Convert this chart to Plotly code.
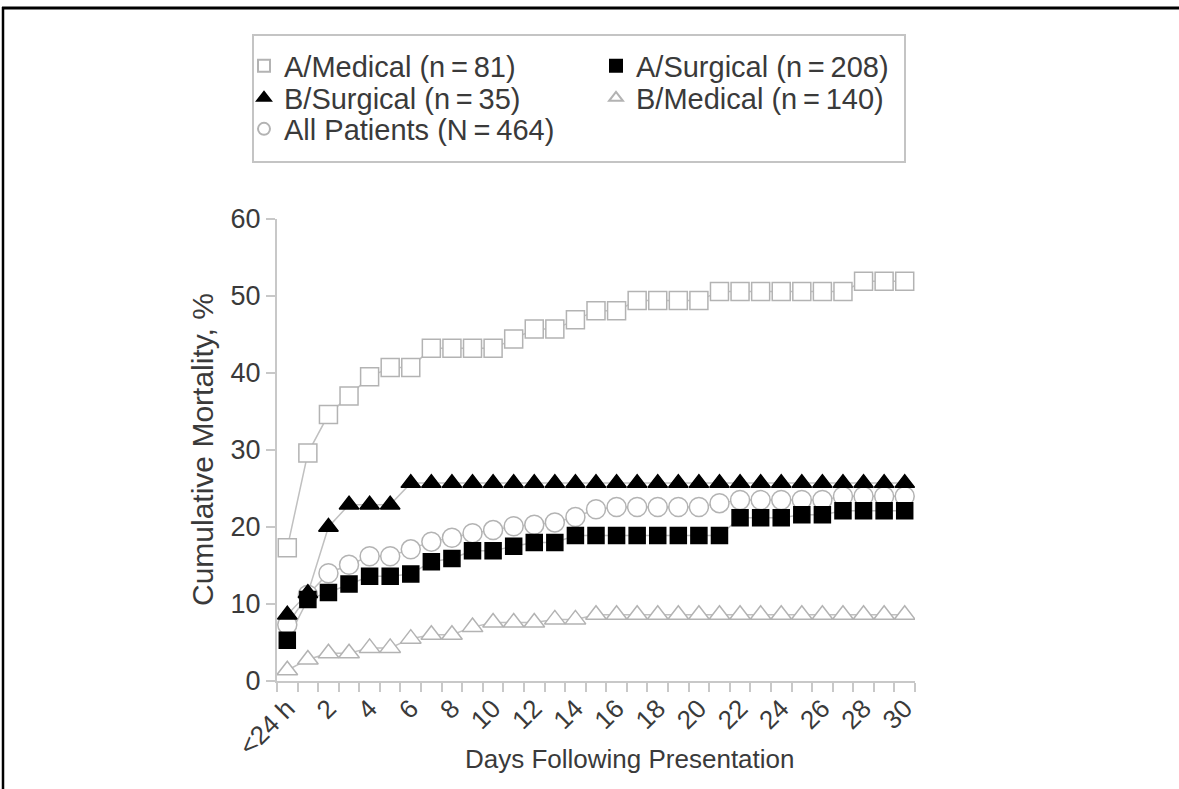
import plotly.graph_objects as go

# ---------------- data ----------------
days = list(range(31))                       # 0 = "<24 h", 1..30 days
tick_days = list(range(0, 31, 2))
tick_text = ["&lt;24 h"] + [str(d) for d in range(2, 31, 2)]
tick_bounds = [d - 0.5 for d in range(32)]
y_ticks = [0, 10, 20, 30, 40, 50, 60]

a_medical = [17.3, 29.6, 34.6, 37.0, 39.5, 40.7, 40.7, 43.2, 43.2, 43.2, 43.2,
             44.4, 45.7, 45.7, 46.9, 48.1, 48.1, 49.4, 49.4, 49.4, 49.4,
             50.6, 50.6, 50.6, 50.6, 50.6, 50.6, 50.6, 51.9, 51.9, 51.9]
a_surgical = [5.3, 10.6, 11.5, 12.6, 13.6, 13.6, 13.9, 15.5, 15.9, 16.9, 16.9,
              17.5, 18.0, 18.0, 18.9, 18.9, 18.9, 18.9, 18.9, 18.9, 18.9,
              18.9, 21.2, 21.2, 21.2, 21.6, 21.6, 22.1, 22.1, 22.1, 22.1]
b_surgical = [8.6, 11.4, 20.0, 22.9, 22.9, 22.9, 25.7, 25.7, 25.7, 25.7, 25.7,
              25.7, 25.7, 25.7, 25.7, 25.7, 25.7, 25.7, 25.7, 25.7, 25.7,
              25.7, 25.7, 25.7, 25.7, 25.7, 25.7, 25.7, 25.7, 25.7, 25.7]
b_medical = [1.4, 2.8, 3.6, 3.6, 4.3, 4.3, 5.5, 6.0, 6.0, 7.0, 7.6,
             7.6, 7.6, 8.0, 8.0, 8.6, 8.6, 8.6, 8.6, 8.6, 8.6,
             8.6, 8.6, 8.6, 8.6, 8.6, 8.6, 8.6, 8.6, 8.6, 8.6]
all_patients = [7.3, 11.2, 14.0, 15.1, 16.2, 16.2, 17.1, 18.1, 18.6, 19.2, 19.6,
                20.1, 20.3, 20.6, 21.3, 22.3, 22.6, 22.6, 22.6, 22.6, 22.6,
                23.1, 23.5, 23.5, 23.5, 23.5, 23.5, 24.0, 24.0, 24.0, 24.0]

names = {
    "am": "A/Medical (n\u2009=\u200981)",
    "as": "A/Surgical (n\u2009=\u2009208)",
    "bs": "B/Surgical (n\u2009=\u200935)",
    "bm": "B/Medical (n\u2009=\u2009140)",
    "ap": "All Patients (N\u2009=\u2009464)",
}

# ---------------- styling ----------------
FONT = "Liberation Sans, Arial, Helvetica, sans-serif"
GRAY = "#b3b3b3"
LINE_GRAY = "#c0c0c0"
AXIS_GRAY = "#c8c8c8"
TEXT = "#3a3a3a"

W, H = 1179, 789
L, R, T, B = 277, 264, 219, 108
PW, PH = W - L - R, H - T - B


def px(x):
    return (x - L) / PW


def py(y):
    return (H - B - y) / PH


# legend slot for each series: (legend id, symbol centre x, row centre y)
slots = {
    "am": ("legend", 264, 66),
    "as": ("legend2", 616, 66),
    "bs": ("legend3", 264, 98),
    "bm": ("legend4", 616, 98),
    "ap": ("legend5", 264, 129),
}

series = [
    # key, values, symbol, fill, outline, size
    ("bm", b_medical, "triangle-up", "white", GRAY, 18),
    ("ap", all_patients, "circle", "white", GRAY, 19),
    ("am", a_medical, "square", "white", GRAY, 18),
    ("as", a_surgical, "square", "black", "black", 16),
    ("bs", b_surgical, "triangle-up", "black", "black", 17),
]

fig = go.Figure()

# connecting lines (beneath all markers)
for key, vals, sym, fill, outline, size in series:
    fig.add_trace(go.Scatter(
        x=days, y=vals, mode="lines",
        line=dict(color=LINE_GRAY, width=1.5),
        showlegend=False, hoverinfo="skip",
    ))

# markers
for key, vals, sym, fill, outline, size in series:
    fig.add_trace(go.Scatter(
        x=days, y=vals, mode="markers", name=names[key],
        marker=dict(symbol=sym, size=size, color=fill,
                    line=dict(color=outline, width=1.5)),
        legend=slots[key][0],
    ))

LEG_FONT = 29
legend_layouts = {}
for key, (lid, sx, sy) in slots.items():
    legend_layouts[lid] = dict(
        orientation="v",
        x=px(sx - 20), xanchor="left",
        y=py(sy), yanchor="middle",
        itemsizing="constant",
        font=dict(size=LEG_FONT, color=TEXT, family=FONT),
        bgcolor="rgba(0,0,0,0)", borderwidth=0,
    )

fig.update_layout(
    width=W, height=H,
    margin=dict(l=L, r=R, t=T, b=B, autoexpand=False),
    paper_bgcolor="white", plot_bgcolor="white",
    font=dict(family=FONT, color=TEXT),
    showlegend=True,
    xaxis=dict(
        range=[-0.5, 30.5],
        tickmode="array", tickvals=tick_days, ticktext=tick_text,
        tickangle=-45, ticks="",
        tickfont=dict(size=26, color=TEXT, family=FONT),
        showline=True, linecolor=AXIS_GRAY, linewidth=2,
        showgrid=False, zeroline=False,
        minor=dict(tickmode="array", tickvals=tick_bounds, ticks="outside",
                   ticklen=9, tickwidth=2, tickcolor=AXIS_GRAY, showgrid=False),
    ),
    yaxis=dict(
        range=[0, 60],
        tickmode="array", tickvals=y_ticks,
        ticks="outside", ticklen=9, tickwidth=2, tickcolor=AXIS_GRAY,
        tickfont=dict(size=27, color=TEXT, family=FONT),
        showline=True, linecolor=AXIS_GRAY, linewidth=2,
        showgrid=False, zeroline=False,
    ),
    **legend_layouts,
)

# axis titles
fig.add_annotation(
    text="Days Following Presentation", xref="paper", yref="paper",
    x=px(630), y=py(759), xanchor="center", yanchor="middle",
    showarrow=False, font=dict(size=26, color=TEXT, family=FONT),
)
fig.add_annotation(
    text="Cumulative Mortality, %", xref="paper", yref="paper",
    x=px(202), y=py(450), xanchor="center", yanchor="middle",
    textangle=-90, showarrow=False, font=dict(size=30, color=TEXT, family=FONT),
)

# legend frame and outer figure border
fig.add_shape(type="rect", xref="paper", yref="paper",
              x0=px(253), x1=px(905), y0=py(162), y1=py(35),
              line=dict(color="#c4c4c4", width=2), fillcolor="rgba(0,0,0,0)")
fig.add_shape(type="line", xref="paper", yref="paper",
              x0=px(2), x1=px(1185), y0=py(8), y1=py(8),
              line=dict(color="black", width=3))
fig.add_shape(type="line", xref="paper", yref="paper",
              x0=px(3), x1=px(3), y0=py(7), y1=py(795),
              line=dict(color="black", width=2.5))

fig.write_html(
    "out.html",
    config={"displayModeBar": False},
    post_script="document.body.style.margin='0px';"
                "document.body.style.padding='0px';"
                "document.body.style.overflow='hidden';",
)
